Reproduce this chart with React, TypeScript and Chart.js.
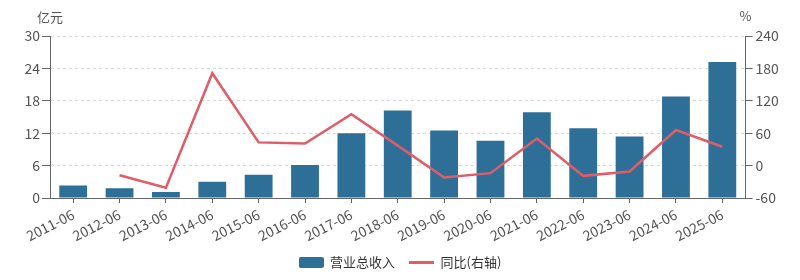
import React, { useEffect, useRef } from "react";
import { Chart, registerables } from "chart.js";

Chart.register(...registerables);

const categories = [
  "2011-06", "2012-06", "2013-06", "2014-06", "2015-06", "2016-06", "2017-06", "2018-06",
  "2019-06", "2020-06", "2021-06", "2022-06", "2023-06", "2024-06", "2025-06",
];
const revenue = [2.3, 1.8, 1.1, 3.0, 4.3, 6.1, 12.0, 16.2, 12.5, 10.6, 15.9, 12.9, 11.4, 18.8, 25.2];
const yoy: (number | null)[] = [null, -18, -41, 171, 43, 41, 95, 37, -22, -14, 50, -19, -11, 66, 35];
const leftTicks = [0, 6, 12, 18, 24, 30];
const rightTicks = [-60, 0, 60, 120, 180, 240];
const seriesNames = ["营业总收入", "同比(右轴)"];
const axisUnits = ["亿元", "%"];

const BAR_COLOR = "#2e6f98";
const LINE_COLOR = "#e05c68";
const TEXT_COLOR = "#555";
const AXIS_COLOR = "#666";
const FONT = '"Noto Sans CJK SC", "Noto Sans", sans-serif';

function makeIcon(w: number, h: number, color: string, radius: number) {
  const c = document.createElement("canvas");
  c.width = w;
  c.height = h;
  const ctx = c.getContext("2d")!;
  ctx.fillStyle = color;
  ctx.beginPath();
  if ((ctx as any).roundRect && radius > 0) (ctx as any).roundRect(0, 0, w, h, radius);
  else ctx.rect(0, 0, w, h);
  ctx.fill();
  return c;
}

export default function App() {
  const ref = useRef<HTMLCanvasElement | null>(null);

  useEffect(() => {
    if (!ref.current) return;
    const barIcon = makeIcon(25, 11, BAR_COLOR, 2);
    const lineIcon = makeIcon(25, 3, LINE_COLOR, 0);

    const unitPlugin = {
      id: "units",
      beforeLayout(chart: any) {
        const lg = chart.legend;
        if (lg && !lg._patched) {
          const orig = lg.fit.bind(lg);
          lg.fit = function () {
            orig();
            this.height = 38;
          };
          lg._patched = true;
        }
      },
      afterDraw(chart: any) {
        const ctx = chart.ctx;
        const yl = chart.scales.y;
        const yr = chart.scales.y1;
        ctx.save();
        ctx.font = `13px ${FONT}`;
        ctx.fillStyle = TEXT_COLOR;
        ctx.textAlign = "center";
        ctx.textBaseline = "middle";
        ctx.fillText(axisUnits[0], yl.right, 17);
        ctx.fillText(axisUnits[1], yr.left, 16);
        ctx.restore();
      },
    };

    const chart = new Chart(ref.current, {
      type: "bar",
      data: {
        labels: categories,
        datasets: [
          {
            type: "bar",
            label: seriesNames[0],
            data: revenue,
            backgroundColor: BAR_COLOR,
            yAxisID: "y",
            order: 1,
            categoryPercentage: 0.6,
            barPercentage: 1,
          } as any,
          {
            type: "line",
            label: seriesNames[1],
            data: yoy,
            borderColor: LINE_COLOR,
            backgroundColor: LINE_COLOR,
            borderWidth: 2.5,
            pointRadius: 0,
            tension: 0,
            yAxisID: "y1",
            order: 0,
          } as any,
        ],
      },
      options: {
        animation: false,
        responsive: false,
        layout: { padding: { top: 36, left: 0, right: 0, bottom: 0 } },
        plugins: {
          tooltip: { enabled: false },
          legend: {
            position: "bottom",
            labels: {
              usePointStyle: true,
              pointStyleWidth: 25,
              padding: 14,
              color: "#333",
              font: { size: 13, family: FONT },
              sort: (a: any, b: any) => a.datasetIndex - b.datasetIndex,
              generateLabels: (c: any) => {
                const items = (Chart.defaults.plugins.legend.labels as any).generateLabels(c);
                items.forEach((it: any) => {
                  it.pointStyle = it.datasetIndex === 0 ? barIcon : lineIcon;
                });
                return items;
              },
            },
          },
        },
        scales: {
          x: {
            offset: true,
            grid: {
              display: true,
              drawOnChartArea: false,
              drawTicks: true,
              tickLength: 5,
              tickColor: AXIS_COLOR,
              offset: false,
            },
            border: { display: true, color: AXIS_COLOR },
            ticks: {
              autoSkip: false,
              maxRotation: 27,
              minRotation: 27,
              padding: 3,
              color: TEXT_COLOR,
              font: { size: 14, family: FONT },
            },
            afterFit: (s: any) => {
              s.height = 44;
            },
          },
          y: {
            position: "left",
            min: leftTicks[0],
            max: leftTicks[leftTicks.length - 1],
            ticks: {
              stepSize: leftTicks[1] - leftTicks[0],
              color: TEXT_COLOR,
              font: { size: 14, family: FONT },
              padding: 2,
            },
            grid: {
              color: "#d9d9d9",
              tickColor: AXIS_COLOR,
              tickLength: 8,
              tickBorderDash: [],
            },
            border: { display: true, color: AXIS_COLOR, dash: [3, 3] },
            afterFit: (s: any) => {
              s.width = 50;
            },
          },
          y1: {
            position: "right",
            min: rightTicks[0],
            max: rightTicks[rightTicks.length - 1],
            ticks: {
              stepSize: rightTicks[1] - rightTicks[0],
              color: TEXT_COLOR,
              font: { size: 14, family: FONT },
              padding: 3,
            },
            grid: {
              drawOnChartArea: false,
              tickColor: AXIS_COLOR,
              tickLength: 7,
            },
            border: { display: true, color: AXIS_COLOR },
            afterFit: (s: any) => {
              s.width = 54.5;
            },
          },
        },
      } as any,
      plugins: [unitPlugin],
    });
    return () => chart.destroy();
  }, []);

  return (
    <div style={{ position: "absolute", left: 0, top: 0, width: 800, height: 280, background: "#fff" }}>
      <canvas ref={ref} width={800} height={280} />
    </div>
  );
}
